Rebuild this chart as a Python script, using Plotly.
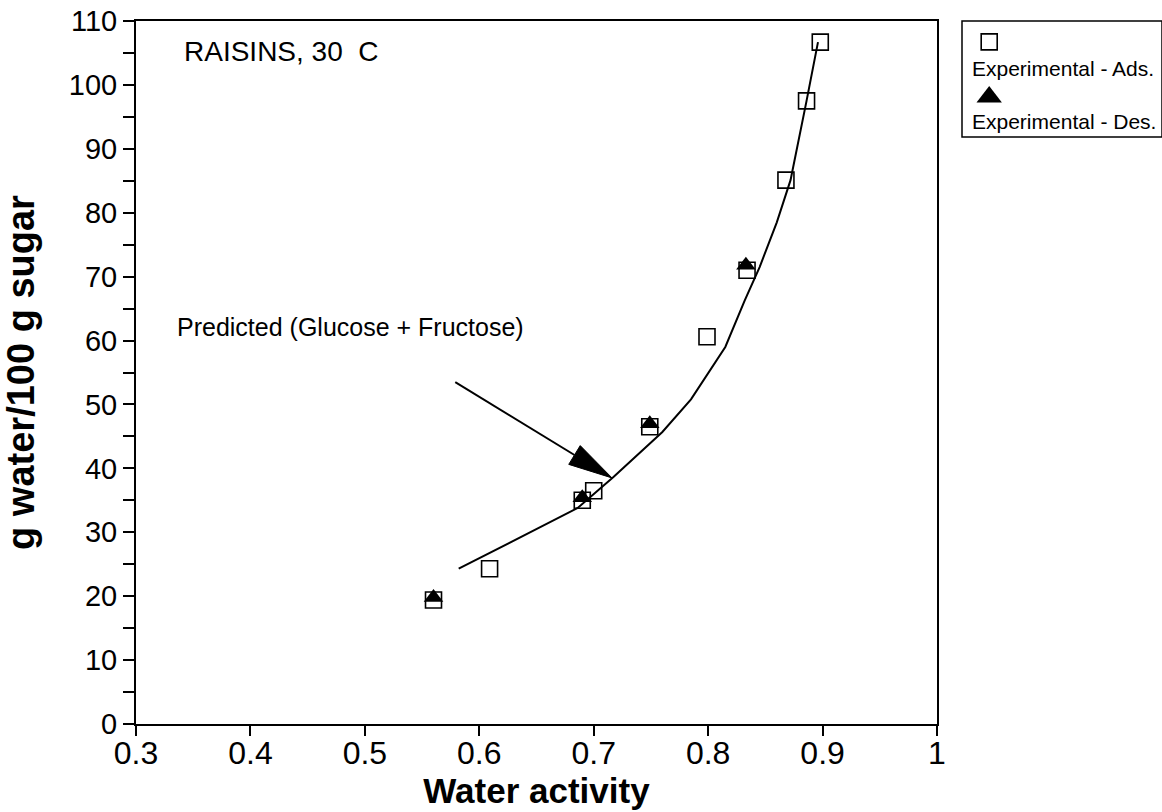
import math
import plotly.graph_objects as go

# Data
ads_aw = [0.560, 0.609, 0.690, 0.700, 0.749, 0.799, 0.834, 0.868, 0.886, 0.898]
ads_m = [19.4, 24.3, 35.0, 36.5, 46.5, 60.6, 71.0, 85.1, 97.5, 106.7]

des_aw = [0.560, 0.690, 0.749, 0.833]
des_m = [19.8, 35.4, 47.0, 71.8]

pred_aw = [0.582, 0.620, 0.660, 0.686, 0.717, 0.760, 0.785, 0.815, 0.832, 0.845, 0.860, 0.872, 0.886, 0.896]
pred_m = [24.3, 27.8, 31.4, 33.8, 38.6, 45.7, 50.8, 59.0, 66.3, 71.5, 78.5, 85.1, 97.5, 106.7]

x_ticks = [0.3, 0.4, 0.5, 0.6, 0.7, 0.8, 0.9, 1.0]
x_ticklabels = ["0.3", "0.4", "0.5", "0.6", "0.7", "0.8", "0.9", "1"]
y_ticks = list(range(0, 111, 10))

X_RANGE = [0.3, 1.0]
Y_RANGE = [0, 110]

FONT = "Liberation Sans, Arial, Helvetica, sans-serif"

# Figure geometry (body margin removed in the page)
W, H = 1162, 812
ML, MT, MB = 136, 21, 88
PAPER_W = W - ML
PLOT_W = 801
PLOT_H = H - MT - MB

fig = go.Figure()

fig.add_trace(go.Scatter(x=pred_aw, y=pred_m, mode="lines",
                         line=dict(color="black", width=2), showlegend=False))
fig.add_trace(go.Scatter(x=ads_aw, y=ads_m, mode="markers",
                         marker=dict(symbol="square-open", size=16, color="black",
                                     line=dict(width=1.6, color="black")),
                         showlegend=False))
fig.add_trace(go.Scatter(x=des_aw, y=des_m, mode="markers",
                         marker=dict(symbol="triangle-up", size=17, color="black"),
                         showlegend=False))

# Legend markers on a small helper axis
leg_x = [0.136, 0.136]
leg_y = [0.82, 0.345]
fig.add_trace(go.Scatter(x=leg_x[:1], y=leg_y[:1], xaxis="x2", yaxis="y2", mode="markers",
                         marker=dict(symbol="square-open", size=16, color="black",
                                     line=dict(width=1.6, color="black")),
                         showlegend=False, hoverinfo="skip"))
fig.add_trace(go.Scatter(x=leg_x[1:], y=leg_y[1:], xaxis="x2", yaxis="y2", mode="markers",
                         marker=dict(symbol="triangle-up", size=22, color="black"),
                         showlegend=False, hoverinfo="skip"))

fig.update_layout(
    width=W, height=H,
    margin=dict(l=ML, r=0, t=MT, b=MB, pad=0, autoexpand=False),
    plot_bgcolor="white", paper_bgcolor="white",
    font=dict(family=FONT, color="black"),
    xaxis=dict(domain=[0, PLOT_W / PAPER_W], range=X_RANGE, tickvals=x_ticks, ticktext=x_ticklabels,
               ticks="outside", ticklen=10, tickwidth=2, tickcolor="black",
               showline=True, linewidth=2, linecolor="black", mirror=True,
               showgrid=False, zeroline=False, tickfont=dict(size=32),
               ticklabelstandoff=-10, ticklabeloverflow="allow", automargin=False,
               title=dict(text="<b>Water activity</b>", font=dict(size=35), standoff=0)),
    yaxis=dict(range=Y_RANGE, tickvals=y_ticks, ticks="outside", ticklen=11, tickwidth=2,
               tickcolor="black", showline=True, linewidth=2, linecolor="black", mirror=True,
               minor=dict(dtick=5, ticks="outside", ticklen=11, tickwidth=2, tickcolor="black"),
               showgrid=False, zeroline=False, tickfont=dict(size=29),
               ticklabeloverflow="allow", automargin=False,
               title=dict(text="<b>g water/100 g sugar</b>", font=dict(size=38), standoff=24)),
    xaxis2=dict(domain=[826 / PAPER_W, 1.0], range=[0, 1], visible=False, fixedrange=True),
    yaxis2=dict(domain=[587 / PLOT_H, 1.0], range=[0, 1], visible=False, fixedrange=True),
)

fig.add_shape(type="rect", xref="paper", yref="paper",
              x0=826 / PAPER_W, x1=1.0, y0=587 / PLOT_H, y1=1.0,
              line=dict(color="black", width=1.5))

fig.add_annotation(xref="paper", yref="paper", x=834 / PAPER_W, y=656 / PLOT_H,
                   text="Experimental - Ads.", showarrow=False, xanchor="left", yanchor="middle",
                   font=dict(size=21, family=FONT))
fig.add_annotation(xref="paper", yref="paper", x=834 / PAPER_W, y=602 / PLOT_H,
                   text="Experimental - Des.", showarrow=False, xanchor="left", yanchor="middle",
                   font=dict(size=21, family=FONT))

fig.add_annotation(x=0.34, y=105.2, text="RAISINS, 30  C", showarrow=False,
                   xanchor="left", yanchor="middle", font=dict(size=28, family=FONT))
fig.add_annotation(x=0.334, y=62.1, text="Predicted (Glucose + Fructose)", showarrow=False,
                   xanchor="left", yanchor="middle", font=dict(size=25, family=FONT))

# Arrow (annotation pointer): shaft + slender filled head
arrow_tail = (0.579, 53.5)
arrow_tip = (0.716, 38.5)
kx = PLOT_W / (X_RANGE[1] - X_RANGE[0])   # px per x unit
ky = PLOT_H / (Y_RANGE[1] - Y_RANGE[0])   # px per y unit
dxp = (arrow_tip[0] - arrow_tail[0]) * kx
dyp = (arrow_tip[1] - arrow_tail[1]) * ky
L = math.hypot(dxp, dyp)
ux, uy = dxp / L, dyp / L
head_len, head_half = 44.0, 11.0
bx, by = -ux * head_len, -uy * head_len        # base centre offset (px)
px_, py_ = -uy * head_half, ux * head_half     # perpendicular (px)
base = (arrow_tip[0] + bx / kx, arrow_tip[1] + by / ky)
c1 = (base[0] + px_ / kx, base[1] + py_ / ky)
c2 = (base[0] - px_ / kx, base[1] - py_ / ky)
fig.add_shape(type="line", xref="x", yref="y",
              x0=arrow_tail[0], y0=arrow_tail[1], x1=base[0], y1=base[1],
              line=dict(color="black", width=2))
fig.add_shape(type="path", xref="x", yref="y",
              path=f"M {arrow_tip[0]},{arrow_tip[1]} L {c1[0]},{c1[1]} L {c2[0]},{c2[1]} Z",
              fillcolor="black", line=dict(color="black", width=1))

fig.write_html("out.html", config={"displayModeBar": False},
               post_script="document.body.style.margin='0';document.body.style.overflow='hidden';")
